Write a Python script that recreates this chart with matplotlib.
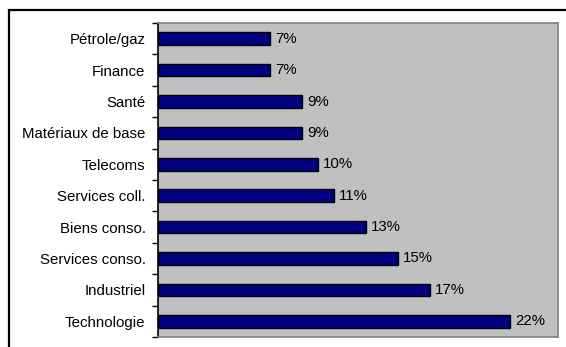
import matplotlib
matplotlib.use("Agg")
import matplotlib.pyplot as plt
from matplotlib.patches import Rectangle
from matplotlib.ticker import FixedLocator

# Sector weights (%), listed top to bottom
sectors = ["Pétrole/gaz", "Finance", "Santé", "Matériaux de base", "Telecoms",
           "Services coll.", "Biens conso.", "Services conso.", "Industriel", "Technologie"]
weights = [7, 7, 9, 9, 10, 11, 13, 15, 17, 22]
value_labels = ["7%", "7%", "9%", "9%", "10%", "11%", "13%", "15%", "17%", "22%"]

plt.rcParams["font.family"] = ["Liberation Sans", "DejaVu Sans"]

W, H, DPI = 566, 347, 100
fig = plt.figure(figsize=(W / DPI, H / DPI), dpi=DPI, facecolor="white")

# outer chart frame
fig.add_artist(Rectangle((9 / W, -0.1), 1.2, 1 - 10 / H + 0.1,
                         transform=fig.transFigure, fill=False,
                         edgecolor="black", linewidth=1.6, clip_on=False))

ax = fig.add_axes([158 / W, 1 - 337 / H, 400 / W, 314 / H])
ax.set_facecolor("#C0C0C0")

n = len(sectors)
ypos = list(range(n - 1, -1, -1))
ax.barh(ypos, weights, height=0.4, color="#000080", edgecolor="black", linewidth=1.0)

for y, v, lab in zip(ypos, weights, value_labels):
    ax.annotate(lab, (v, y), xytext=(3.5, 0), textcoords="offset points",
                ha="left", va="center", fontsize=10.8, color="black")

ax.set_xlim(0, 25)
ax.set_ylim(-0.5, n - 0.5)
ax.set_xticks([])
ax.set_yticks(ypos)
ax.set_yticklabels(sectors, fontsize=10.8)
ax.tick_params(axis="y", which="major", length=0, pad=9)
ax.yaxis.set_minor_locator(FixedLocator([i - 0.5 for i in range(n + 1)]))
ax.tick_params(axis="y", which="minor", length=4, width=1, color="black", direction="out")

for side in ["top", "right", "bottom"]:
    ax.spines[side].set_color("#808080")
    ax.spines[side].set_linewidth(1.2)
ax.spines["left"].set_color("black")
ax.spines["left"].set_linewidth(1.2)

fig.savefig("out.png", dpi=DPI, facecolor="white")
